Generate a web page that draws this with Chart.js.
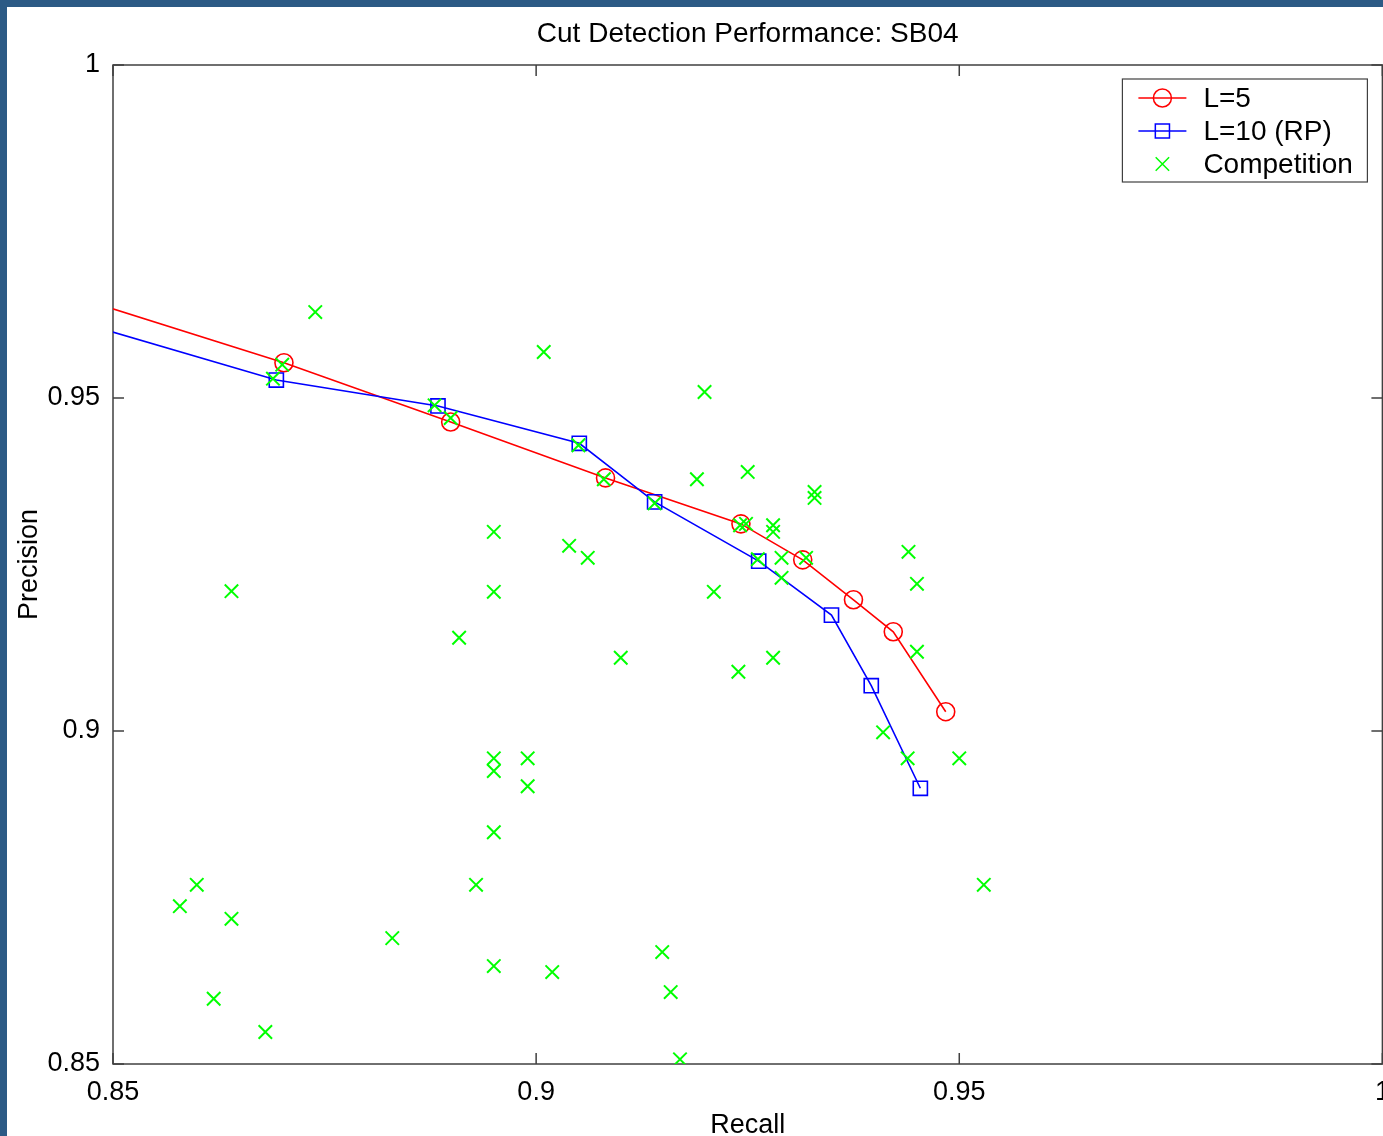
<!DOCTYPE html>
<html>
<head>
<meta charset="utf-8">
<script src="https://cdn.jsdelivr.net/npm/chart.js@4/dist/chart.umd.min.js"></script>
<style>
  html, body { margin: 0; padding: 0; overflow: hidden; background: #2c5a85; }
  #wrap { position: absolute; left: 7px; top: 7px; width: 1387px; height: 1140px; background: #fff; }
</style>
</head>
<body>
<div id="wrap"><canvas id="pr"></canvas></div>
<script>
const titleText = 'Cut Detection Performance: SB04'
const xTicks = [0.85, 0.9, 0.95, 1]
const yTicks = [0.85, 0.9, 0.95, 1]

// L=5
const recallL5 = [0.84, 0.8702, 0.8899, 0.9082, 0.9242, 0.9315, 0.9375, 0.9422, 0.9484]
const precL5 = [0.9674, 0.9553, 0.9464, 0.9380, 0.9311, 0.9257, 0.9197, 0.9149, 0.9029]

// L=10 (RP)
const recallL10 = [0.84, 0.8693, 0.8884, 0.9051, 0.9140, 0.9263, 0.9349, 0.9396, 0.9454]
const precL10 = [0.9636, 0.9527, 0.9488, 0.9432, 0.9344, 0.9255, 0.9174, 0.9068, 0.8914]

// other systems
const recallComp = [
  0.8739, 0.8700, 0.8689, 0.9009, 0.8880, 0.8899, 0.9050, 0.9199, 0.9080, 0.9190,
  0.9140, 0.8950, 0.9039, 0.9061, 0.9250, 0.9329, 0.9329, 0.9241, 0.9248, 0.9280,
  0.9280, 0.9262, 0.9290, 0.9319, 0.9290, 0.9210, 0.9440, 0.9450, 0.9450, 0.9410,
  0.9439, 0.9500, 0.8950, 0.8909, 0.9100, 0.9239, 0.9280, 0.8950, 0.8950, 0.8990,
  0.8990, 0.8950, 0.8599, 0.8579, 0.8640, 0.8619, 0.8680, 0.8830, 0.8929, 0.8950,
  0.9019, 0.9149, 0.9159, 0.9170, 0.9529, 0.8640
]
const precComp = [
  0.9629, 0.9550, 0.9529, 0.9569, 0.9489, 0.9470, 0.9429, 0.9509, 0.9378, 0.9378,
  0.9342, 0.9299, 0.9278, 0.9260, 0.9389, 0.9359, 0.9350, 0.9309, 0.9311, 0.9309,
  0.9299, 0.9258, 0.9260, 0.9260, 0.9230, 0.9209, 0.9269, 0.9221, 0.9119, 0.8998,
  0.8959, 0.8959, 0.9209, 0.9140, 0.9110, 0.9089, 0.9110, 0.8959, 0.8940, 0.8959,
  0.8917, 0.8848, 0.8769, 0.8737, 0.8718, 0.8598, 0.8548, 0.8689, 0.8769, 0.8647,
  0.8638, 0.8668, 0.8608, 0.8507, 0.8769, 0.9210
]

const FONT = 'Liberation Sans, Arial, sans-serif'
const AXIS_COLOR = '#404040'

const toPoints = (xs, ys) => xs.map((x, i) => ({ x, y: ys[i] }))

// box, inward ticks and a MATLAB-like legend
const framePlugin = {
  id: 'frame',
  beforeDatasetsDraw(chart) {
    const { ctx, chartArea: a, scales } = chart
    ctx.save()
    ctx.strokeStyle = AXIS_COLOR
    ctx.lineWidth = 1.5
    ctx.strokeRect(a.left, a.top, a.right - a.left, a.bottom - a.top)
    const len = 11
    ctx.beginPath()
    xTicks.forEach(v => {
      const px = scales.x.getPixelForValue(v)
      ctx.moveTo(px, a.bottom); ctx.lineTo(px, a.bottom - len)
      ctx.moveTo(px, a.top); ctx.lineTo(px, a.top + len)
    })
    yTicks.forEach(v => {
      const py = scales.y.getPixelForValue(v)
      ctx.moveTo(a.left, py); ctx.lineTo(a.left + len, py)
      ctx.moveTo(a.right, py); ctx.lineTo(a.right - len, py)
    })
    ctx.stroke()
    ctx.restore()
  },
  afterDraw(chart) {
    const { ctx, chartArea: a } = chart
    const w = 245, h = 103
    const left = a.right - 15 - w, top = a.top + 14
    ctx.save()
    ctx.fillStyle = '#fff'
    ctx.fillRect(left, top, w, h)
    ctx.strokeStyle = AXIS_COLOR
    ctx.lineWidth = 1.2
    ctx.strokeRect(left, top, w, h)
    ctx.font = '28px ' + FONT
    ctx.textBaseline = 'middle'
    const rows = [19, 52, 85]
    chart.data.datasets.forEach((ds, i) => {
      const y = top + rows[i]
      ctx.strokeStyle = ds.borderColor
      ctx.lineWidth = 1.5
      if (ds.showLine !== false) {
        ctx.beginPath()
        ctx.moveTo(left + 16, y); ctx.lineTo(left + 64, y)
        ctx.stroke()
      }
      ctx.fillStyle = 'rgba(0,0,0,0)'
      Chart.helpers.drawPoint(ctx, {
        pointStyle: ds.pointStyle, radius: ds.pointRadius, rotation: 0, borderWidth: ds.pointBorderWidth
      }, left + 40, y)
      ctx.fillStyle = '#000'
      ctx.fillText(ds.label, left + 81, y + 1)
    })
    ctx.restore()
  }
}

new Chart('pr', {
  type: 'line',
  data: {
    datasets: [
      {
        label: 'L=5',
        data: toPoints(recallL5, precL5),
        borderColor: '#ff0000',
        borderWidth: 1.6,
        pointStyle: 'circle',
        pointRadius: 9,
        pointBorderWidth: 1.6,
        pointBackgroundColor: 'rgba(0,0,0,0)',
        pointBorderColor: '#ff0000',
        tension: 0,
        clip: 0,
        order: 3
      },
      {
        label: 'L=10 (RP)',
        data: toPoints(recallL10, precL10),
        borderColor: '#0000ff',
        borderWidth: 1.6,
        pointStyle: 'rect',
        pointRadius: 10,
        pointBorderWidth: 1.6,
        pointBackgroundColor: 'rgba(0,0,0,0)',
        pointBorderColor: '#0000ff',
        tension: 0,
        clip: 0,
        order: 2
      },
      {
        label: 'Competition',
        data: toPoints(recallComp, precComp),
        borderColor: '#00ff00',
        showLine: false,
        pointStyle: 'crossRot',
        pointRadius: 9.5,
        pointBorderWidth: 2,
        pointBorderColor: '#00ff00',
        order: 1
      }
    ]
  },
  options: {
    responsive: true,
    maintainAspectRatio: false,
    animation: false,
    layout: { padding: { top: 0, left: 0, right: 2, bottom: 0 } },
    plugins: {
      legend: { display: false },
      tooltip: { enabled: false },
      title: { display: false }
    },
    scales: {
      x: {
        type: 'linear',
        position: 'bottom',
        min: 0.85,
        max: 1,
        afterBuildTicks: s => { s.ticks = xTicks.map(v => ({ value: v })) },
        afterFit: s => { s.height = 83; s.paddingLeft = 0; s.paddingRight = 0 },
        grid: { display: false, drawTicks: false },
        border: { display: false },
        ticks: {
          padding: 12,
          color: '#000',
          font: { family: FONT, size: 27 },
          maxRotation: 0,
          callback: v => String(v)
        },
        title: {
          display: true,
          text: 'Recall',
          color: '#000',
          font: { family: FONT, size: 27 },
          padding: { top: 0, bottom: 5 }
        }
      },
      xTop: {
        type: 'linear',
        position: 'top',
        min: 0.85,
        max: 1,
        afterFit: s => { s.height = 58; s.paddingLeft = 0; s.paddingRight = 0 },
        grid: { display: false, drawTicks: false },
        border: { display: false },
        ticks: { display: false },
        title: {
          display: true,
          text: titleText,
          color: '#000',
          font: { family: FONT, size: 28 },
          padding: { top: 10, bottom: 0 }
        }
      },
      y: {
        type: 'linear',
        position: 'left',
        min: 0.85,
        max: 1,
        afterBuildTicks: s => { s.ticks = yTicks.map(v => ({ value: v })) },
        afterFit: s => { s.width = 106; s.paddingTop = 0; s.paddingBottom = 0 },
        grid: { display: false, drawTicks: false },
        border: { display: false },
        ticks: {
          padding: 13,
          color: '#000',
          font: { family: FONT, size: 27 },
          callback: v => String(v)
        },
        title: {
          display: true,
          text: 'Precision',
          color: '#000',
          font: { family: FONT, size: 27 },
          padding: { top: 6, bottom: 0 }
        }
      }
    }
  },
  plugins: [framePlugin]
})
</script>
</body>
</html>
